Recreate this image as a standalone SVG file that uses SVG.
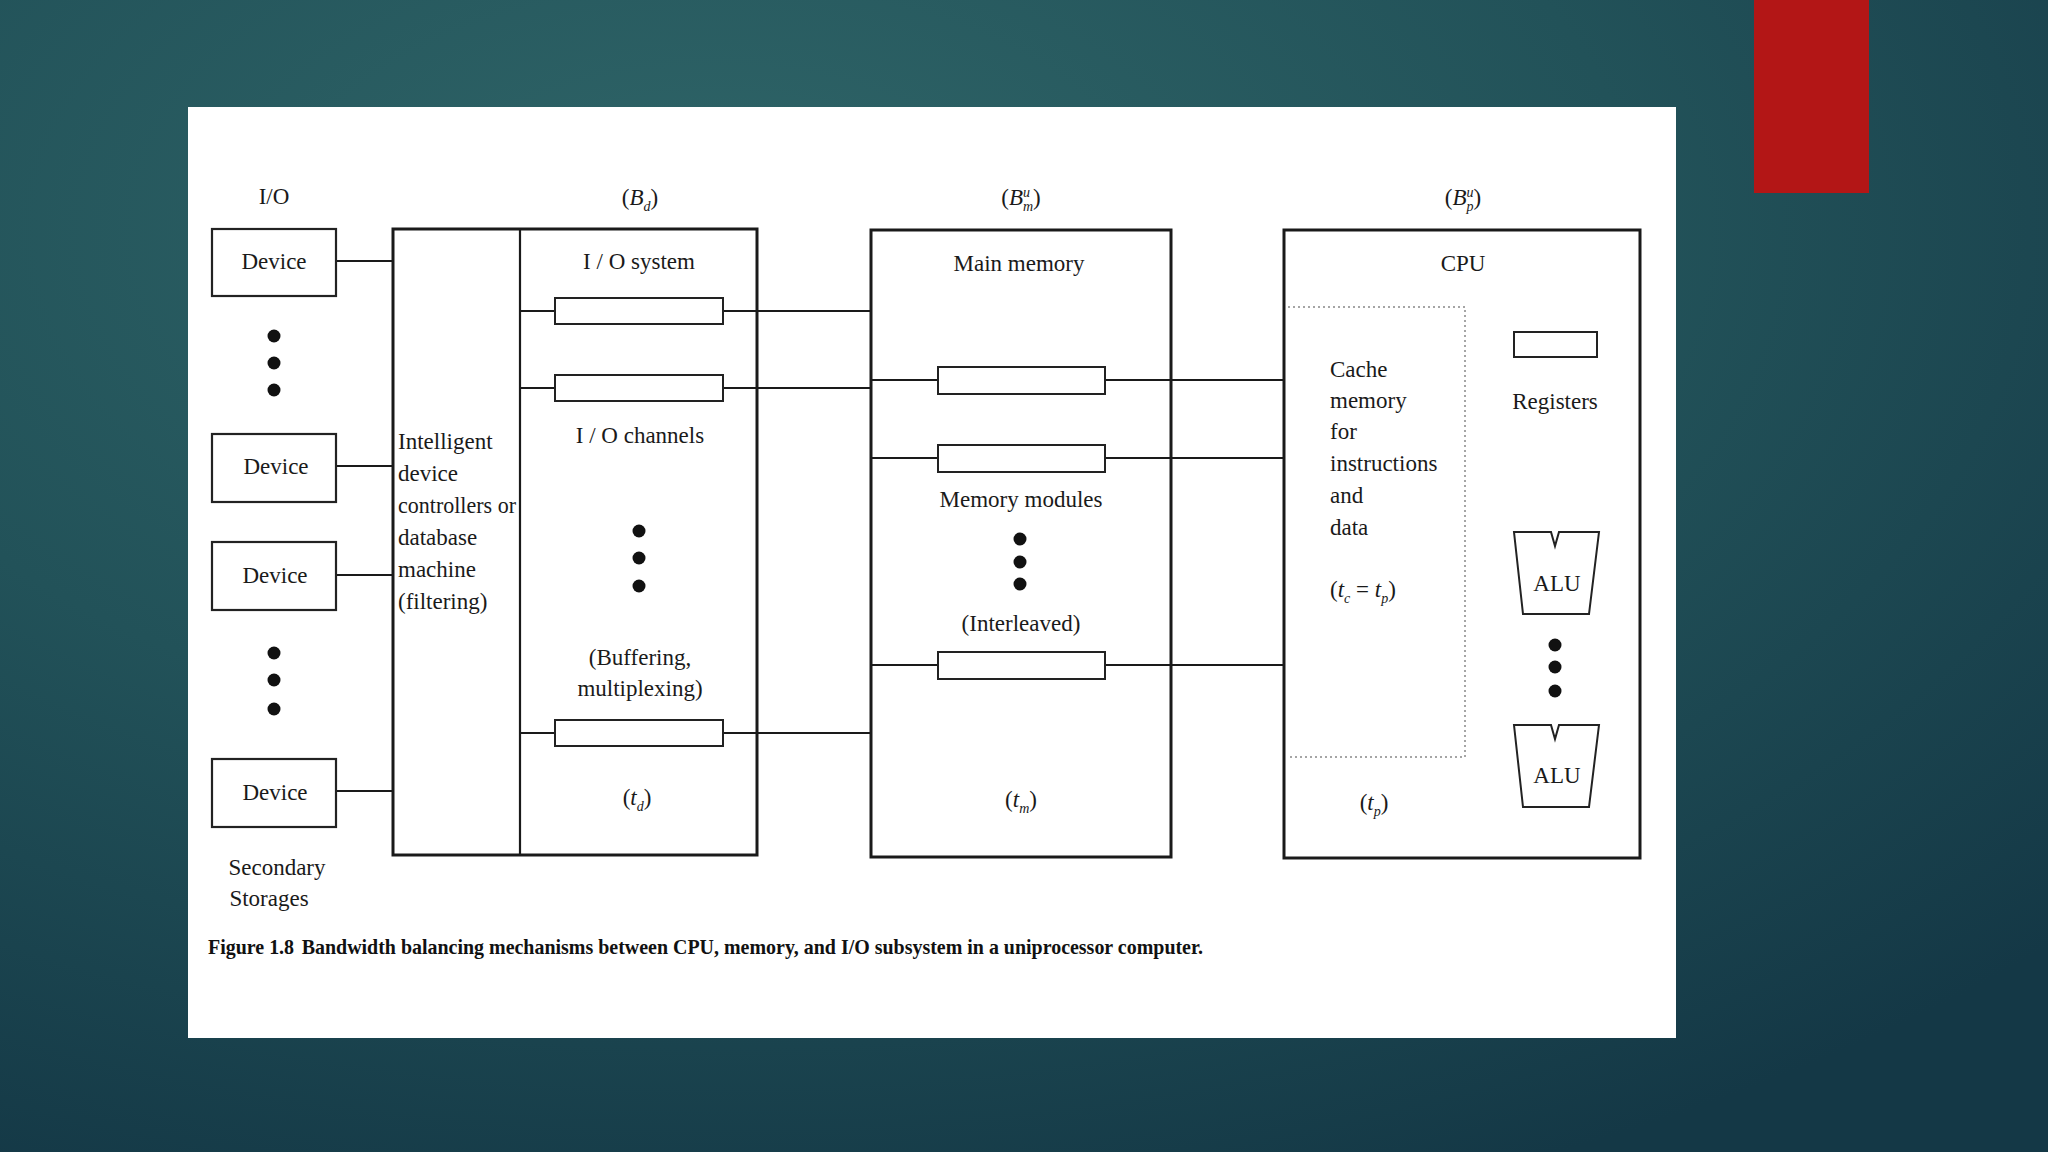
<svg xmlns="http://www.w3.org/2000/svg" width="2048" height="1152" viewBox="0 0 2048 1152">
<defs>
<radialGradient id="bg" cx="0.35" cy="0.2" r="0.9">
<stop offset="0" stop-color="#2f6568"/>
<stop offset="0.5" stop-color="#225259"/>
<stop offset="1" stop-color="#143846"/>
</radialGradient>
<style>
.t{font-family:"Liberation Serif","Times New Roman",serif;font-size:23px;fill:#1a1a1a;text-anchor:middle}
.l{text-anchor:start}
.i{font-style:italic}
.s{font-size:14px;font-style:italic}
.box{fill:#fff;stroke:#1a1a1a;stroke-width:3}
.dev{fill:#fff;stroke:#222;stroke-width:2.2}
.buf{fill:#fff;stroke:#222;stroke-width:2}
.ln{stroke:#1a1a1a;stroke-width:2.2;fill:none}
.dot{fill:#111}
.dash{fill:none;stroke:#888;stroke-width:1.5;stroke-dasharray:2 3}
.cap{font-family:"Liberation Serif","Times New Roman",serif;font-size:21px;font-weight:bold;fill:#111}
</style>
</defs>
<rect width="2048" height="1152" fill="url(#bg)"/>
<rect x="1754" y="0" width="115" height="193" fill="#b31616"/>
<rect x="188" y="107" width="1488" height="931" fill="#fff"/>

<g id="io-label"><text class="t" x="274" y="204">I/O</text></g>

<g id="big-io-box">
<rect class="box" x="393" y="229" width="364" height="626"/>
<line class="ln" x1="520" y1="229" x2="520" y2="855"/>
</g>

<g id="main-memory-box"><rect class="box" x="871" y="230" width="300" height="627"/></g>
<g id="cpu-box"><rect class="box" x="1284" y="230" width="356" height="628"/></g>

<g id="connectors">
<line class="ln" x1="336" y1="261" x2="393" y2="261"/>
<line class="ln" x1="336" y1="466" x2="393" y2="466"/>
<line class="ln" x1="336" y1="575" x2="393" y2="575"/>
<line class="ln" x1="336" y1="791" x2="393" y2="791"/>
<line class="ln" x1="520" y1="311" x2="555" y2="311"/>
<line class="ln" x1="723" y1="311" x2="871" y2="311"/>
<line class="ln" x1="520" y1="388" x2="555" y2="388"/>
<line class="ln" x1="723" y1="388" x2="871" y2="388"/>
<line class="ln" x1="520" y1="733" x2="555" y2="733"/>
<line class="ln" x1="723" y1="733" x2="871" y2="733"/>
<line class="ln" x1="871" y1="380" x2="938" y2="380"/>
<line class="ln" x1="1105" y1="380" x2="1284" y2="380"/>
<line class="ln" x1="871" y1="458" x2="938" y2="458"/>
<line class="ln" x1="1105" y1="458" x2="1284" y2="458"/>
<line class="ln" x1="871" y1="665" x2="938" y2="665"/>
<line class="ln" x1="1105" y1="665" x2="1284" y2="665"/>
</g>

<g id="device1"><rect class="dev" x="212" y="229" width="124" height="67"/><text class="t" x="274" y="269">Device</text></g>
<g id="device-dots1"><circle class="dot" cx="274" cy="336" r="6.5"/><circle class="dot" cx="274" cy="363" r="6.5"/><circle class="dot" cx="274" cy="390" r="6.5"/></g>
<g id="device2"><rect class="dev" x="212" y="434" width="124" height="68"/><text class="t" x="276" y="474">Device</text></g>
<g id="device3"><rect class="dev" x="212" y="542" width="124" height="68"/><text class="t" x="275" y="583">Device</text></g>
<g id="device-dots2"><circle class="dot" cx="274" cy="653" r="6.5"/><circle class="dot" cx="274" cy="680" r="6.5"/><circle class="dot" cx="274" cy="709" r="6.5"/></g>
<g id="device4"><rect class="dev" x="212" y="759" width="124" height="68"/><text class="t" x="275" y="800">Device</text></g>
<g id="secondary-label"><text class="t" x="277" y="875">Secondary</text><text class="t" x="269" y="906">Storages</text></g>

<g id="controllers">
<text class="t l" x="398" y="449">Intelligent</text>
<text class="t l" x="398" y="481">device</text>
<text class="t l" x="398" y="513" textLength="118" lengthAdjust="spacingAndGlyphs">controllers or</text>
<text class="t l" x="398" y="545">database</text>
<text class="t l" x="398" y="577">machine</text>
<text class="t l" x="398" y="609">(filtering)</text>
</g>

<g id="io-system">
<text class="t" x="640" y="205">(<tspan class="i">B</tspan><tspan class="s" dy="6">d</tspan><tspan dy="-6">)</tspan></text>
<text class="t" x="639" y="269">I / O system</text>
<rect class="buf" x="555" y="298" width="168" height="26"/>
<rect class="buf" x="555" y="375" width="168" height="26"/>
<text class="t" x="640" y="443">I / O channels</text>
<circle class="dot" cx="639" cy="531" r="6.5"/><circle class="dot" cx="639" cy="558" r="6.5"/><circle class="dot" cx="639" cy="586" r="6.5"/>
<text class="t" x="640" y="665">(Buffering,</text>
<text class="t" x="640" y="696">multiplexing)</text>
<rect class="buf" x="555" y="720" width="168" height="26"/>
<text class="t" x="637" y="805">(<tspan class="i">t</tspan><tspan class="s" dy="6">d</tspan><tspan dy="-6">)</tspan></text>
</g>

<g id="main-memory">
<text class="t" x="1021" y="205">(<tspan class="i">B</tspan><tspan class="s" dy="-8">u</tspan><tspan class="s" dx="-7" dy="14">m</tspan><tspan dy="-6">)</tspan></text>
<text class="t" x="1019" y="271">Main memory</text>
<rect class="buf" x="938" y="367" width="167" height="27"/>
<rect class="buf" x="938" y="445" width="167" height="27"/>
<text class="t" x="1021" y="507">Memory modules</text>
<circle class="dot" cx="1020" cy="539" r="6.5"/><circle class="dot" cx="1020" cy="562" r="6.5"/><circle class="dot" cx="1020" cy="584" r="6.5"/>
<text class="t" x="1021" y="631">(Interleaved)</text>
<rect class="buf" x="938" y="652" width="167" height="27"/>
<text class="t" x="1021" y="807">(<tspan class="i">t</tspan><tspan class="s" dy="6">m</tspan><tspan dy="-6">)</tspan></text>
</g>

<g id="cpu">
<text class="t" x="1463" y="205">(<tspan class="i">B</tspan><tspan class="s" dy="-8">u</tspan><tspan class="s" dx="-7" dy="14">p</tspan><tspan dy="-6">)</tspan></text>
<text class="t" x="1463" y="271">CPU</text>
<polyline class="dash" points="1288,307 1465,307 1465,757 1288,757"/>
<text class="t l" x="1330" y="377">Cache</text>
<text class="t l" x="1330" y="408">memory</text>
<text class="t l" x="1330" y="439">for</text>
<text class="t l" x="1330" y="471">instructions</text>
<text class="t l" x="1330" y="503">and</text>
<text class="t l" x="1330" y="535">data</text>
<text class="t l" x="1330" y="597">(<tspan class="i">t</tspan><tspan class="s" dy="6">c</tspan><tspan dy="-6"> = </tspan><tspan class="i">t</tspan><tspan class="s" dy="6">p</tspan><tspan dy="-6">)</tspan></text>
<text class="t" x="1374" y="810">(<tspan class="i">t</tspan><tspan class="s" dy="6">p</tspan><tspan dy="-6">)</tspan></text>
<rect class="buf" x="1514" y="332" width="83" height="25"/>
<text class="t" x="1555" y="409">Registers</text>
<path class="buf" d="M1514,532 L1551,532 L1555,546 L1559,532 L1599,532 L1589,614 L1523,614 Z"/>
<text class="t" x="1557" y="591">ALU</text>
<circle class="dot" cx="1555" cy="645" r="6.5"/><circle class="dot" cx="1555" cy="667" r="6.5"/><circle class="dot" cx="1555" cy="691" r="6.5"/>
<path class="buf" d="M1514,725 L1551,725 L1555,739 L1559,725 L1599,725 L1589,807 L1523,807 Z"/>
<text class="t" x="1557" y="783">ALU</text>
</g>

<g id="caption"><text class="cap" x="208" y="954" textLength="995" lengthAdjust="spacingAndGlyphs">Figure 1.8<tspan dx="8">Bandwidth balancing mechanisms between CPU, memory, and I/O subsystem in a uniprocessor computer.</tspan></text></g>
</svg>
